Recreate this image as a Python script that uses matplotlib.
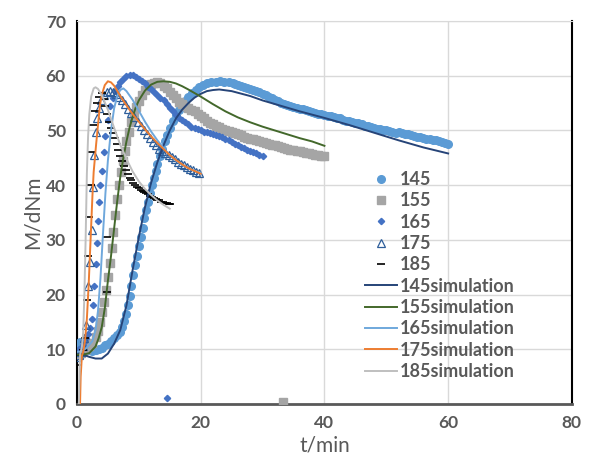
import matplotlib
matplotlib.use("Agg")
import matplotlib.pyplot as plt

# measured torque curves (t in min, M in dNm)
t145 = [0.2, 0.5, 1.0, 1.5, 2.0, 2.5, 3.0, 3.5, 4.0, 4.5, 5.0, 5.5, 6.0, 6.5, 7.0, 7.3, 7.6, 7.9,
        8.2, 8.5, 8.8, 9.1, 9.4, 9.7, 10.0, 10.3, 10.6, 10.9, 11.2, 11.5, 11.8, 12.1, 12.4, 12.7,
        13.0, 13.4, 13.8, 14.2, 14.6, 15.0, 15.5, 16.0, 16.5, 17.0, 17.5, 18.0, 18.6, 19.2, 19.8,
        20.4, 21.0, 21.7, 22.4, 23.1, 23.8, 24.5, 25.2, 25.5, 26, 26.5, 27, 27.5, 28, 28.5, 29,
        29.5, 30, 30.5, 31, 31.5, 32, 32.5, 33, 33.5, 34, 34.5, 35, 35.5, 36, 36.5, 37, 37.5, 38,
        38.5, 39, 39.5, 40, 40.5, 41, 41.5, 42, 42.5, 43, 43.5, 44, 44.5, 45, 45.5, 46, 46.5, 47,
        47.5, 48, 48.5, 49, 49.5, 50, 50.5, 51, 51.5, 52, 52.5, 53, 53.5, 54, 54.5, 55, 55.5, 56,
        56.5, 57, 57.5, 58, 58.5, 59, 59.5, 60]
m145 = [11.0, 11.3, 10.5, 10.0, 9.8, 9.7, 9.8, 10.0, 10.3, 10.7, 11.0, 11.5, 12.0, 12.6, 13.2,
        14.0, 15.2, 16.5, 18.0, 19.8, 21.6, 23.5, 25.4, 27.0, 28.8, 30.5, 32.2, 34.0, 35.5, 37.0,
        38.6, 40.0, 41.4, 42.6, 43.8, 45.3, 46.7, 48.0, 49.2, 50.4, 51.7, 52.8, 53.8, 54.7, 55.4,
        56.1, 56.8, 57.4, 57.9, 58.3, 58.6, 58.8, 58.9, 59.0, 58.9, 58.8, 58.6, 58.5, 58.3, 58.2,
        58.0, 57.8, 57.6, 57.4, 57.2, 57.0, 56.7, 56.4, 56.2, 55.9, 55.6, 55.4, 55.1, 54.9, 54.7,
        54.5, 54.3, 54.2, 54.0, 53.9, 53.7, 53.5, 53.4, 53.2, 53.1, 53.0, 52.9, 52.7, 52.6, 52.4,
        52.3, 52.2, 52.0, 51.8, 51.7, 51.5, 51.4, 51.3, 51.1, 50.9, 50.8, 50.7, 50.5, 50.3, 50.2,
        50.1, 50.0, 49.9, 49.8, 49.6, 49.7, 49.5, 49.4, 49.3, 49.2, 49.0, 48.9, 48.8, 48.7, 48.5,
        48.4, 48.3, 48.2, 48.0, 47.9, 47.7, 47.6]

t155 = [0.0, 0.3, 0.6, 1.0, 1.5, 2.0, 2.5, 3.0, 3.4, 3.8, 4.1, 4.4, 4.7, 5.0, 5.3, 5.6, 5.9, 6.2,
        6.5, 6.8, 7.1, 7.4, 7.7, 8.0, 8.4, 8.8, 9.2, 9.6, 10.0, 10.5, 11.0, 11.5, 12.0, 12.5, 13.0,
        13.5, 14.0, 14.5, 15.0, 15.5, 16.0, 16.5, 17.0, 17.5, 18, 18.5, 19, 19.5, 20, 20.5, 21,
        21.5, 22, 22.5, 23, 23.5, 24, 24.5, 25, 25.5, 26, 26.5, 27, 27.5, 28, 28.5, 29, 29.5, 30,
        30.5, 31, 31.5, 32, 32.5, 33, 33.5, 34, 34.5, 35, 35.5, 36, 36.5, 37, 37.5, 38, 38.5, 39,
        39.5, 40, 33.3]
m155 = [9.0, 9.2, 9.4, 9.6, 10.0, 10.5, 11.2, 12.2, 13.4, 15.0, 16.8, 18.6, 20.8, 23.2, 25.8, 28.5,
        31.5, 34.5, 37.4, 40.0, 42.4, 44.5, 46.3, 48.0, 49.8, 51.5, 53.0, 54.3, 55.4, 56.5, 57.4,
        58.0, 58.5, 58.7, 58.8, 58.6, 58.2, 57.7, 57.1, 56.5, 55.9, 55.3, 54.8, 54.5, 54.2, 53.8,
        53.5, 53.0, 52.6, 52.2, 51.8, 51.4, 51.1, 50.8, 50.6, 50.3, 50.1, 49.9, 49.7, 49.5, 49.3,
        49.1, 48.9, 48.7, 48.5, 48.4, 48.2, 48.0, 47.9, 47.7, 47.6, 47.4, 47.3, 47.1, 47.0, 46.8,
        46.7, 46.5, 46.4, 46.3, 46.2, 46.0, 45.9, 45.8, 45.7, 45.6, 45.5, 45.4, 45.3, 0.3]

t165 = [0.0, 0.3, 0.6, 0.9, 1.2, 1.5, 1.8, 2.1, 2.4, 2.6, 2.8, 3.0, 3.2, 3.4, 3.6, 3.8, 4.0, 4.3,
        4.6, 5.0, 5.4, 5.8, 6.2, 6.6, 7.0, 7.5, 8.0, 8.5, 9.0, 9.5, 10.0, 10.5, 11.0, 11.5, 12.0,
        12.5, 13.0, 13.5, 14.0, 14.5, 15.0, 15.5, 16.0, 16.5, 17.0, 17.5, 18.0, 18.5, 19.0, 19.5,
        20.0, 20.5, 21.0, 21.5, 22.0, 22.5, 23.0, 23.5, 24.0, 24.5, 25.0, 25.5, 26.0, 26.5, 27.0,
        27.5, 28.0, 28.5, 29.0, 29.5, 30.0, 14.5]
m165 = [9.5, 10.0, 10.3, 10.8, 11.3, 12.0, 12.8, 13.8, 15.5, 18.0, 21.5, 25.5, 29.5, 33.5, 37.0,
        40.0, 42.6, 46.0, 49.0, 52.0, 54.4, 56.0, 57.3, 58.2, 58.9, 59.5, 59.9, 60.1, 60.1, 59.8,
        59.5, 59.1, 58.6, 58.0, 57.5, 57.0, 56.5, 56.0, 55.5, 54.9, 54.2, 53.5, 52.8, 52.3, 51.9,
        51.5, 51.1, 50.7, 50.4, 50.2, 50.0, 49.8, 49.7, 49.5, 49.4, 49.2, 49.0, 48.8, 48.5, 48.2,
        47.9, 47.6, 47.3, 47.0, 46.8, 46.5, 46.3, 46.1, 45.9, 45.6, 45.4, 1.1]

t175 = [0.0, 0.3, 0.6, 0.9, 1.2, 1.5, 1.8, 2.1, 2.4, 2.6, 2.8, 3.0, 3.2, 3.5, 3.9, 4.3, 4.8, 5.3,
        5.8, 6.3, 6.8, 7.3, 7.8, 8.3, 8.8, 9.3, 9.8, 10.3, 10.8, 11.3, 11.8, 12.3, 12.8, 13.3,
        13.8, 14.3, 14.8, 15.3, 15.8, 16.3, 16.8, 17.3, 17.8, 18.3, 18.8, 19.3, 19.8]
m175 = [8.5, 9.0, 9.5, 10.5, 12.0, 14.5, 21.5, 26.0, 31.8, 39.7, 45.5, 49.7, 52.3, 54.1, 55.5,
        56.5, 57.0, 57.2, 57.1, 56.7, 56.2, 55.5, 54.8, 54.0, 53.2, 52.4, 51.6, 50.8, 50.0, 49.3,
        48.6, 47.9, 47.3, 46.7, 46.2, 45.9, 45.6, 45.2, 44.8, 44.3, 43.9, 43.6, 43.3, 43.0, 42.7,
        42.5, 42.3]

t185 = [0.2, 0.6, 1.0, 1.3, 1.6, 1.8, 2.0, 2.2, 2.4, 2.6, 2.9, 3.2, 3.6, 4.0, 4.3, 4.6, 4.9, 5.2,
        5.5, 5.8, 6.1, 6.4, 6.7, 7.0, 7.3, 7.6, 7.9, 8.2, 8.5, 8.8, 9.1, 9.4, 9.7, 10.0, 10.3,
        10.6, 10.9, 11.2, 11.5, 11.8, 12.1, 12.4, 12.7, 13.0, 13.3, 13.6, 13.9, 14.2, 14.5, 14.8,
        15.1, 4.9, 4.8]
m185 = [7.1, 9.0, 9.8, 12.0, 19.0, 27.0, 34.2, 40.0, 46.0, 51.0, 53.5, 55.0, 56.2, 56.8, 55.8,
        54.5, 53.0, 51.6, 50.5, 49.5, 48.6, 47.6, 46.4, 45.3, 44.4, 43.5, 42.7, 42.0, 41.4, 40.9,
        40.4, 40.0, 39.7, 39.4, 39.1, 38.9, 38.7, 38.5, 38.3, 38.1, 37.9, 37.7, 37.5, 37.3, 37.2,
        37.0, 36.9, 36.8, 36.7, 36.6, 36.5, 30.5, 20.5]

# simulation curves
ts145 = [0, 1, 2, 3, 4, 5, 6, 7, 8, 9, 10, 11, 12, 13, 14, 15, 16, 17, 18, 19, 20, 21, 22, 23,
         25, 28, 30, 33, 36, 40, 44, 48, 52, 56, 60]
ms145 = [9.5, 9.0, 8.6, 8.3, 8.3, 9.2, 11.0, 13.5, 18.0, 24.5, 30.5, 36.0, 40.5, 44.2, 47.3, 50.0,
         52.2, 53.8, 55.0, 56.0, 56.7, 57.2, 57.4, 57.5, 57.2, 56.3, 55.5, 54.5, 53.5, 52.3, 51.0,
         49.6, 48.2, 46.9, 45.8]

ts155 = [0, 1, 2, 3, 3.5, 4, 4.5, 5, 5.5, 6, 6.5, 7, 7.5, 8, 8.5, 9, 9.5, 10, 11, 12, 13, 14, 15,
         16, 17, 18, 20, 22, 24, 26, 28, 30, 32, 34, 36, 38, 40]
ms155 = [9.0, 9.0, 9.3, 10.5, 12.0, 14.0, 17.5, 22.5, 27.0, 32.0, 37.0, 41.5, 45.0, 48.0, 50.5,
         52.5, 54.2, 55.5, 57.3, 58.4, 58.9, 59.0, 58.9, 58.6, 58.1, 57.5, 56.2, 54.8, 53.5, 52.4,
         51.5, 50.7, 50.0, 49.3, 48.6, 48.0, 47.2]

ts165 = [0, 0.5, 1.0, 1.5, 2.0, 2.5, 3.0, 3.4, 3.8, 4.2, 4.6, 5.0, 5.5, 6.0, 6.5, 7.0, 7.5, 8, 9,
         10, 11, 12, 13, 14, 15, 16, 17, 18, 19, 20]
ms165 = [9.5, 9.6, 9.8, 10.2, 10.8, 11.5, 13.5, 17.0, 23.0, 31.0, 38.5, 44.5, 50.0, 54.0, 56.3,
         57.4, 57.7, 57.2, 55.6, 53.6, 51.6, 49.8, 48.2, 46.8, 45.5, 44.5, 43.7, 43.1, 42.6, 42.3]

ts175 = [0.5, 0.6, 0.8, 1.0, 1.3, 1.6, 1.9, 2.2, 2.5, 2.7, 3.1, 3.4, 3.7, 4.0, 4.5, 5.0, 5.5, 6.0,
         7, 8, 9, 10, 11, 12, 13, 14, 15, 16, 17, 18, 19, 20]
ms175 = [0.0, 5.0, 8.8, 9.5, 11.5, 15.5, 22.0, 30.0, 38.0, 42.4, 47.5, 51.0, 54.5, 56.5, 58.3, 59.0,
         58.8, 58.2, 56.3, 54.6, 53.0, 51.6, 50.2, 48.9, 47.7, 46.6, 45.5, 44.6, 43.8, 43.1, 42.6,
         42.1]

ts185 = [0.3, 0.5, 0.8, 1.0, 1.2, 1.4, 1.6, 1.8, 2.0, 2.3, 2.7, 3.0, 3.4, 4, 5, 6, 7, 8, 9, 10,
         11, 12, 13, 14, 15]
ms185 = [0.0, 9.0, 10.5, 13.0, 20.0, 30.0, 42.0, 49.0, 53.0, 56.2, 57.7, 57.9, 57.6, 56.5, 53.8,
         50.5, 47.4, 44.8, 42.5, 40.7, 39.3, 38.2, 37.2, 36.4, 35.7]

txt = "#595959"
plt.rcParams['font.family'] = ['Lato', 'DejaVu Sans']

fig = plt.figure(figsize=(5.92, 4.59), dpi=100)
ax = fig.add_axes([0.130, 0.120, 0.836, 0.834])

ax.plot(t145, m145, 'o', color="#5B9BD5", ms=5.5, mec="#5B9BD5", label="145", zorder=3)
ax.plot(t155, m155, 's', color="#A5A5A5", ms=5.5, mec="#A5A5A5", label="155", zorder=3)
ax.plot(t165, m165, 'D', color="#4472C4", ms=3.2, mec="#4472C4", label="165", zorder=3)
ax.plot(t175, m175, '^', color="#2E5E9A", mfc="none", ms=5.5, mew=0.9, label="175", zorder=3)
ax.plot(t185, m185, '_', color="black", ms=6, mew=1.2, label="185", zorder=3)

ax.plot(ts145, ms145, color="#264478", lw=1.4, label="145simulation", zorder=4)
ax.plot(ts155, ms155, color="#43682B", lw=1.4, label="155simulation", zorder=4)
ax.plot(ts165, ms165, color="#6FA8DC", lw=1.4, label="165simulation", zorder=4)
ax.plot(ts175, ms175, color="#ED7D31", lw=1.4, label="175simulation", zorder=4)
ax.plot(ts185, ms185, color="#BFBFBF", lw=1.4, label="185simulation", zorder=4)

ax.set_xlim(0, 80)
ax.set_ylim(0, 70)
ax.set_xticks([0, 20, 40, 60, 80])
ax.set_yticks(range(0, 71, 10))
ax.grid(True, color="#D9D9D9", lw=1)
ax.set_axisbelow(True)
ax.tick_params(length=0, labelsize=12.5, colors=txt, pad=8)
for lab in ax.get_xticklabels() + ax.get_yticklabels():
    lab.set_fontweight("bold")

ax.spines['left'].set_color("black")
ax.spines['left'].set_linewidth(1.5)
ax.spines['right'].set_color("black")
ax.spines['right'].set_linewidth(1.5)
ax.spines['bottom'].set_color("#595959")
ax.spines['bottom'].set_linewidth(2)
ax.spines['top'].set_color("#D9D9D9")

ax.set_xlabel("t/min", fontsize=15, color=txt, labelpad=3)
ax.set_ylabel("M/dNm", fontsize=15, color=txt, labelpad=2)

ax.legend(loc="upper left", bbox_to_anchor=(0.601, 0.647), bbox_transform=fig.transFigure,
          frameon=False, handlelength=1.8, handletextpad=0.15,
          labelspacing=0.24, borderpad=0, labelcolor=txt,
          prop={'family': ['Lato', 'DejaVu Sans'], 'weight': 'bold', 'size': 13})

fig.savefig("out.png", dpi=100)
